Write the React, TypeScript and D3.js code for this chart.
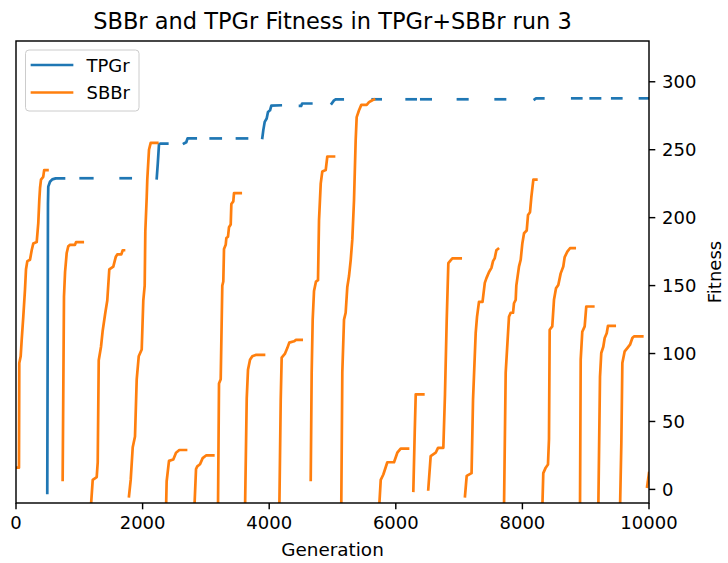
import React from "react";
import * as d3 from "d3";

type Pt = [number, number];

const title = "SBBr and TPGr Fitness in TPGr+SBBr run 3";
const xLabel = "Generation";
const yLabel = "Fitness";
const xTicks = [0, 2000, 4000, 6000, 8000, 10000];
const yTicks = [0, 50, 100, 150, 200, 250, 300];
const xDomain: Pt = [0, 10000];
const yDomain: Pt = [-10, 330];

// TPGr (blue) — runs of recorded generations, gaps between them
const tpgrSegments: Pt[][] = [
  [[494, -2.5], [500, 100], [505, 210], [510, 222.8], [537, 226.4], [573, 228.2], [627, 228.9], [758, 228.9]],
  [[1022, 229], [1205, 229]],
  [[1654, 229], [1812, 229]],
  [[2223, 229], [2240, 240], [2259, 254], [2280, 254.5], [2390, 254.5]],
  [[2654, 254.6], [2690, 255.5], [2710, 258.3], [2839, 258.3]],
  [[3076, 258.3], [3234, 258.3]],
  [[3491, 258.3], [3649, 258.3]],
  [[3891, 258.7], [3907, 264.4], [3929, 270.5], [3960, 273], [3981, 277.8], [4013, 279], [4034, 282.5], [4182, 282.7]],
  [[4487, 282.2], [4505, 282.2], [4520, 284], [4665, 284]],
  [[4987, 284], [5024, 286.3], [5055, 287.1], [5161, 287.1]],
  [[5635, 287.1], [5761, 287.1]],
  [[6172, 287.1], [6314, 287.1]],
  [[6403, 287.1], [6551, 287.1]],
  [[6982, 287.1], [7130, 287.1]],
  [[7578, 287.1], [7725, 287.1]],
  [[8194, 287.1], [8215, 287.8], [8330, 287.8]],
  [[8788, 287.8], [8930, 287.8]],
  [[9079, 287.8], [9226, 287.8]],
  [[9420, 287.8], [9562, 287.8]],
  [[9858, 287.8], [10000, 287.8]],
];

// SBBr (orange) — separate runs
const sbbrSegments: Pt[][] = [
  [[0, 16], [47, 16], [52, 93], [74, 98], [90, 110], [115, 127], [142, 147], [158, 162], [179, 168], [221, 169], [248, 176], [273, 181], [327, 182], [352, 196], [368, 213], [380, 222], [395, 228], [430, 230], [445, 235], [497, 235]],
  [[737, 7], [758, 142], [775, 160], [801, 174], [826, 179], [853, 180], [932, 180], [948, 182], [1054, 182]],
  [[1180, -15], [1212, 7], [1275, 9], [1291, 20], [1307, 95], [1343, 105], [1370, 117], [1411, 130], [1442, 139], [1474, 162], [1537, 164], [1575, 171], [1600, 173], [1664, 173], [1686, 176], [1706, 176]],
  [[1785, -5], [1812, 7], [1844, 31], [1880, 39], [1907, 81], [1939, 98], [1986, 103], [2011, 139], [2033, 150], [2043, 190], [2065, 215], [2074, 228], [2085, 237], [2101, 250], [2128, 255], [2232, 255]],
  [[2370, -15], [2380, 6], [2417, 21], [2485, 22], [2528, 27], [2580, 29], [2686, 29]],
  [[2817, -15], [2844, 15], [2864, 17], [2907, 18.5], [2949, 23], [3002, 25], [3117, 25]],
  [[3191, -15], [3207, 78], [3234, 81], [3259, 150], [3275, 153], [3286, 177], [3313, 180], [3323, 185], [3349, 186], [3365, 193], [3392, 195], [3402, 210], [3433, 212], [3444, 218], [3550, 218]],
  [[3618, -15], [3645, 67], [3665, 88], [3697, 95.5], [3733, 98], [3787, 99], [3918, 99]],
  [[4160, -15], [4182, 66], [4197, 97], [4250, 100], [4286, 104], [4317, 108], [4392, 109], [4423, 110], [4513, 110]],
  [[4656, 7], [4671, 86], [4687, 125], [4708, 146], [4739, 153], [4771, 154], [4787, 198], [4814, 225], [4839, 234], [4893, 235], [4918, 245], [5024, 245]],
  [[5139, -10], [5155, 86], [5182, 125], [5208, 130], [5234, 149], [5261, 157], [5288, 169], [5313, 184], [5340, 213], [5366, 257], [5382, 274], [5419, 279], [5455, 283], [5540, 283], [5577, 285], [5629, 286.4], [5656, 287]],
  [[5735, -15], [5762, 7], [5803, 11], [5866, 20], [5972, 20], [6024, 27], [6077, 30], [6193, 30]],
  [[6277, -1], [6299, 42], [6315, 70], [6435, 70]],
  [[6513, 0], [6551, 24.5], [6630, 27], [6667, 30.6], [6751, 30.6], [6777, 70], [6804, 124], [6830, 166.5], [6856, 168], [6893, 170], [7025, 170]],
  [[7093, -5], [7120, 10], [7197, 12], [7220, 66], [7262, 115], [7283, 127], [7314, 138], [7370, 138], [7406, 152], [7432, 155.5], [7473, 160], [7511, 163], [7536, 168], [7562, 170], [7589, 176], [7615, 177]],
  [[7709, -15], [7736, 86], [7788, 127], [7815, 130], [7852, 130], [7867, 137], [7894, 139.5], [7904, 150], [7946, 164], [7973, 169], [7999, 181], [8026, 188.5], [8068, 190.5], [8089, 202], [8120, 204], [8141, 215], [8173, 228], [8220, 228]],
  [[8314, -15], [8330, 12], [8368, 16], [8404, 18.4], [8420, 37], [8431, 117.5], [8472, 120], [8499, 139.5], [8531, 148], [8567, 150.5], [8605, 159], [8646, 164], [8668, 171], [8710, 175], [8752, 177.5], [8826, 177.5]],
  [[8910, -15], [8921, 95.5], [8946, 116], [8984, 120], [9009, 134.6], [9120, 134.6]],
  [[9199, -15], [9226, 83], [9246, 100.4], [9278, 105], [9300, 111.4], [9332, 115], [9352, 120.4], [9458, 120.4]],
  [[9542, -15], [9563, 34], [9579, 93], [9616, 101.6], [9657, 104], [9700, 106.5], [9737, 111.4], [9763, 112.6], [9894, 112.6]],
  [[9970, 2], [10000, 12]],
];

const seriesNames = ["TPGr", "SBBr"];
const seriesColors = ["#1f77b4", "#ff7f0e"];

export default function App() {
  const W = 728, H = 563;
  const L = 16, R = 649, T = 41, B = 503;
  const x = d3.scaleLinear().domain(xDomain).range([L, R]);
  const y = d3.scaleLinear().domain(yDomain).range([B, T]);
  const line = d3.line<Pt>().x((d) => x(d[0])).y((d) => y(d[1]));
  const font = "DejaVu Sans, sans-serif";
  const fs = 18;
  const lw = 2.7;

  return (
    <svg width={W} height={H} style={{ position: "absolute", left: 0, top: 0, background: "#fff" }} fontFamily={font}>
      <rect x={0} y={0} width={W} height={H} fill="#fff" />
      <defs>
        <clipPath id="plotclip">
          <rect x={L} y={T} width={R - L} height={B - T} />
        </clipPath>
      </defs>
      <g clipPath="url(#plotclip)" fill="none" strokeWidth={lw} strokeLinejoin="round" strokeLinecap="square">
        {tpgrSegments.map((s, i) => (
          <path key={"t" + i} d={line(s) || ""} stroke={seriesColors[0]} />
        ))}
        {sbbrSegments.map((s, i) => (
          <path key={"s" + i} d={line(s) || ""} stroke={seriesColors[1]} />
        ))}
      </g>
      {/* spines */}
      <rect x={L} y={T} width={R - L} height={B - T} fill="none" stroke="#000" strokeWidth={1.44} />
      {/* x ticks */}
      {xTicks.map((t) => (
        <g key={"xt" + t}>
          <line x1={x(t)} x2={x(t)} y1={B} y2={B + 6.3} stroke="#000" strokeWidth={1.44} />
          <text x={x(t)} y={B + 26} textAnchor="middle" fontSize={fs} fill="#000">{t}</text>
        </g>
      ))}
      {/* y ticks on right */}
      {yTicks.map((t) => (
        <g key={"yt" + t}>
          <line x1={R} x2={R + 6.3} y1={y(t)} y2={y(t)} stroke="#000" strokeWidth={1.44} />
          <text x={R + 13} y={y(t) + 6.5} textAnchor="start" fontSize={fs} fill="#000">{t}</text>
        </g>
      ))}
      <text x={(L + R) / 2} y={556} textAnchor="middle" fontSize={18.4} fill="#000">{xLabel}</text>
      <text transform={`translate(721,${(T + B) / 2}) rotate(-90)`} textAnchor="middle" fontSize={fs} fill="#000">{yLabel}</text>
      <text x={(L + R) / 2} y={29} textAnchor="middle" fontSize={22.5} fill="#000">{title}</text>
      {/* legend */}
      <g>
        <rect x={25.5} y={50} width={113.5} height={61} rx={3.5} fill="#fff" fillOpacity={0.8} stroke="#cccccc" strokeWidth={1} />
        {seriesNames.map((n, i) => (
          <g key={n}>
            <line x1={32} x2={72} y1={65 + i * 27.5} y2={65 + i * 27.5} stroke={seriesColors[i]} strokeWidth={lw} strokeLinecap="square" />
            <text x={86.5} y={65 + i * 27.5 + 6.5} fontSize={fs} fill="#000">{n}</text>
          </g>
        ))}
      </g>
    </svg>
  );
}
